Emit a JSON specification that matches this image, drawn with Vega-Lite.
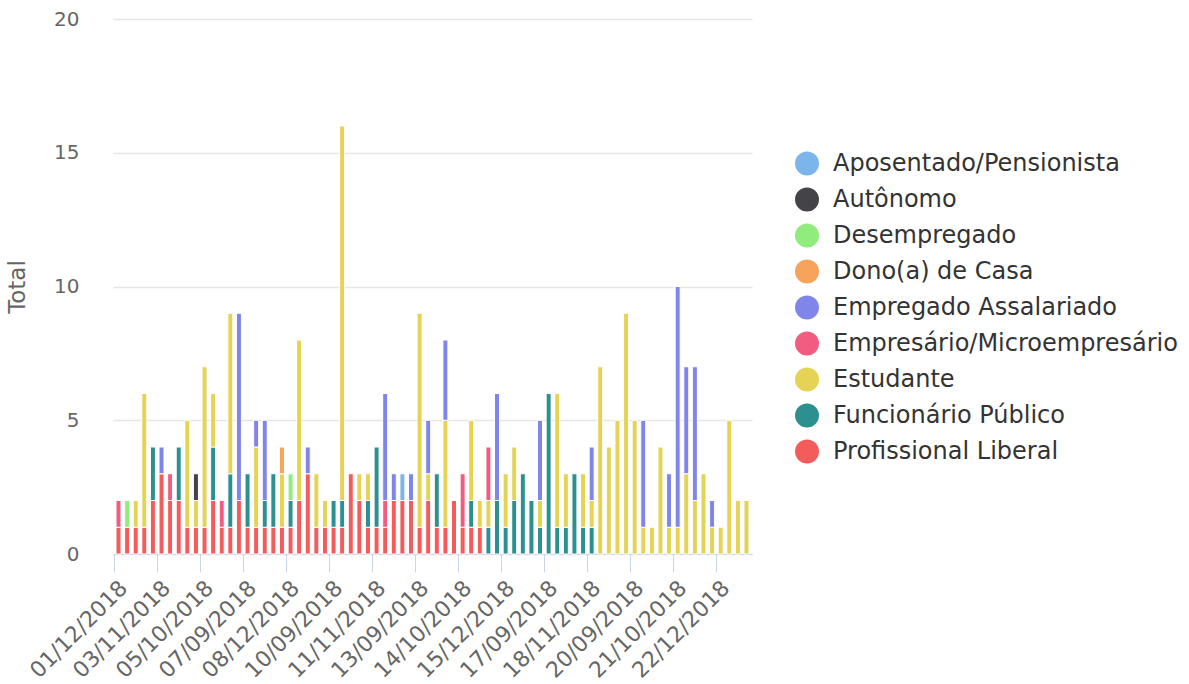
{
  "$schema": "https://vega.github.io/schema/vega-lite/v6.json",
  "width": 639,
  "height": 535,
  "autosize": {"type": "none"},
  "padding": {"left": 113, "top": 19, "right": 437, "bottom": 130},
  "background": "white",
  "config": {"view": {"stroke": null}, "font": "DejaVu Sans"},
  "data": {"values": [
    {"d":"01/12/2018","c":"Profissional Liberal","v":1},{"d":"01/12/2018","c":"Empresário/Microempresário","v":1},
    {"d":"02/10/2018","c":"Profissional Liberal","v":1},{"d":"02/10/2018","c":"Desempregado","v":1},
    {"d":"02/11/2018","c":"Profissional Liberal","v":1},{"d":"02/11/2018","c":"Estudante","v":1},
    {"d":"02/12/2018","c":"Profissional Liberal","v":1},{"d":"02/12/2018","c":"Estudante","v":5},
    {"d":"03/10/2018","c":"Profissional Liberal","v":2},{"d":"03/10/2018","c":"Funcionário Público","v":2},
    {"d":"03/11/2018","c":"Profissional Liberal","v":3},{"d":"03/11/2018","c":"Empregado Assalariado","v":1},
    {"d":"03/12/2018","c":"Profissional Liberal","v":2},{"d":"03/12/2018","c":"Empresário/Microempresário","v":1},
    {"d":"04/10/2018","c":"Profissional Liberal","v":2},{"d":"04/10/2018","c":"Funcionário Público","v":2},
    {"d":"04/11/2018","c":"Profissional Liberal","v":1},{"d":"04/11/2018","c":"Estudante","v":4},
    {"d":"04/12/2018","c":"Profissional Liberal","v":1},{"d":"04/12/2018","c":"Estudante","v":1},{"d":"04/12/2018","c":"Autônomo","v":1},
    {"d":"05/10/2018","c":"Profissional Liberal","v":1},{"d":"05/10/2018","c":"Estudante","v":6},
    {"d":"05/11/2018","c":"Profissional Liberal","v":2},{"d":"05/11/2018","c":"Funcionário Público","v":2},{"d":"05/11/2018","c":"Estudante","v":2},
    {"d":"05/12/2018","c":"Profissional Liberal","v":1},{"d":"05/12/2018","c":"Empresário/Microempresário","v":1},
    {"d":"06/11/2018","c":"Profissional Liberal","v":1},{"d":"06/11/2018","c":"Funcionário Público","v":2},{"d":"06/11/2018","c":"Estudante","v":6},
    {"d":"06/12/2018","c":"Profissional Liberal","v":2},{"d":"06/12/2018","c":"Empregado Assalariado","v":7},
    {"d":"07/09/2018","c":"Profissional Liberal","v":1},{"d":"07/09/2018","c":"Funcionário Público","v":2},
    {"d":"07/11/2018","c":"Profissional Liberal","v":1},{"d":"07/11/2018","c":"Estudante","v":3},{"d":"07/11/2018","c":"Empregado Assalariado","v":1},
    {"d":"07/12/2018","c":"Profissional Liberal","v":1},{"d":"07/12/2018","c":"Funcionário Público","v":1},{"d":"07/12/2018","c":"Empregado Assalariado","v":3},
    {"d":"08/10/2018","c":"Profissional Liberal","v":1},{"d":"08/10/2018","c":"Funcionário Público","v":2},
    {"d":"08/11/2018","c":"Profissional Liberal","v":1},{"d":"08/11/2018","c":"Estudante","v":2},{"d":"08/11/2018","c":"Dono(a) de Casa","v":1},
    {"d":"08/12/2018","c":"Profissional Liberal","v":1},{"d":"08/12/2018","c":"Funcionário Público","v":1},{"d":"08/12/2018","c":"Desempregado","v":1},
    {"d":"09/09/2018","c":"Profissional Liberal","v":2},{"d":"09/09/2018","c":"Estudante","v":6},
    {"d":"09/10/2018","c":"Profissional Liberal","v":3},{"d":"09/10/2018","c":"Empregado Assalariado","v":1},
    {"d":"09/11/2018","c":"Profissional Liberal","v":1},{"d":"09/11/2018","c":"Estudante","v":2},
    {"d":"09/12/2018","c":"Profissional Liberal","v":1},{"d":"09/12/2018","c":"Estudante","v":1},
    {"d":"10/09/2018","c":"Profissional Liberal","v":1},{"d":"10/09/2018","c":"Funcionário Público","v":1},
    {"d":"10/10/2018","c":"Profissional Liberal","v":1},{"d":"10/10/2018","c":"Funcionário Público","v":1},{"d":"10/10/2018","c":"Estudante","v":14},
    {"d":"10/11/2018","c":"Profissional Liberal","v":3},
    {"d":"10/12/2018","c":"Profissional Liberal","v":2},{"d":"10/12/2018","c":"Estudante","v":1},
    {"d":"11/10/2018","c":"Profissional Liberal","v":1},{"d":"11/10/2018","c":"Funcionário Público","v":1},{"d":"11/10/2018","c":"Estudante","v":1},
    {"d":"11/11/2018","c":"Profissional Liberal","v":1},{"d":"11/11/2018","c":"Funcionário Público","v":3},
    {"d":"11/12/2018","c":"Profissional Liberal","v":1},{"d":"11/12/2018","c":"Empresário/Microempresário","v":1},{"d":"11/12/2018","c":"Empregado Assalariado","v":4},
    {"d":"12/10/2018","c":"Profissional Liberal","v":2},{"d":"12/10/2018","c":"Empregado Assalariado","v":1},
    {"d":"12/11/2018","c":"Profissional Liberal","v":2},{"d":"12/11/2018","c":"Aposentado/Pensionista","v":1},
    {"d":"12/12/2018","c":"Profissional Liberal","v":2},{"d":"12/12/2018","c":"Empregado Assalariado","v":1},
    {"d":"13/09/2018","c":"Profissional Liberal","v":1},{"d":"13/09/2018","c":"Estudante","v":8},
    {"d":"13/10/2018","c":"Profissional Liberal","v":2},{"d":"13/10/2018","c":"Estudante","v":1},{"d":"13/10/2018","c":"Empregado Assalariado","v":2},
    {"d":"13/11/2018","c":"Profissional Liberal","v":1},{"d":"13/11/2018","c":"Funcionário Público","v":2},
    {"d":"13/12/2018","c":"Profissional Liberal","v":1},{"d":"13/12/2018","c":"Estudante","v":4},{"d":"13/12/2018","c":"Empregado Assalariado","v":3},
    {"d":"14/09/2018","c":"Profissional Liberal","v":2},
    {"d":"14/10/2018","c":"Profissional Liberal","v":1},{"d":"14/10/2018","c":"Empresário/Microempresário","v":2},
    {"d":"14/11/2018","c":"Profissional Liberal","v":1},{"d":"14/11/2018","c":"Funcionário Público","v":1},{"d":"14/11/2018","c":"Estudante","v":3},
    {"d":"14/12/2018","c":"Profissional Liberal","v":1},{"d":"14/12/2018","c":"Estudante","v":1},
    {"d":"15/10/2018","c":"Funcionário Público","v":1},{"d":"15/10/2018","c":"Estudante","v":1},{"d":"15/10/2018","c":"Empresário/Microempresário","v":2},
    {"d":"15/11/2018","c":"Funcionário Público","v":2},{"d":"15/11/2018","c":"Empregado Assalariado","v":4},
    {"d":"15/12/2018","c":"Funcionário Público","v":1},{"d":"15/12/2018","c":"Estudante","v":2},
    {"d":"16/09/2018","c":"Funcionário Público","v":2},{"d":"16/09/2018","c":"Estudante","v":2},
    {"d":"16/10/2018","c":"Funcionário Público","v":3},
    {"d":"16/11/2018","c":"Funcionário Público","v":2},
    {"d":"16/12/2018","c":"Funcionário Público","v":1},{"d":"16/12/2018","c":"Estudante","v":1},{"d":"16/12/2018","c":"Empregado Assalariado","v":3},
    {"d":"17/09/2018","c":"Funcionário Público","v":6},
    {"d":"17/10/2018","c":"Funcionário Público","v":1},{"d":"17/10/2018","c":"Estudante","v":5},
    {"d":"17/11/2018","c":"Funcionário Público","v":1},{"d":"17/11/2018","c":"Estudante","v":2},
    {"d":"17/12/2018","c":"Funcionário Público","v":3},
    {"d":"18/10/2018","c":"Funcionário Público","v":1},{"d":"18/10/2018","c":"Estudante","v":2},
    {"d":"18/11/2018","c":"Funcionário Público","v":1},{"d":"18/11/2018","c":"Estudante","v":1},{"d":"18/11/2018","c":"Empregado Assalariado","v":2},
    {"d":"18/12/2018","c":"Estudante","v":7},
    {"d":"19/10/2018","c":"Estudante","v":4},
    {"d":"19/11/2018","c":"Estudante","v":5},
    {"d":"19/12/2018","c":"Estudante","v":9},
    {"d":"20/09/2018","c":"Estudante","v":5},
    {"d":"20/10/2018","c":"Estudante","v":1},{"d":"20/10/2018","c":"Empregado Assalariado","v":4},
    {"d":"20/11/2018","c":"Estudante","v":1},
    {"d":"20/12/2018","c":"Estudante","v":4},
    {"d":"21/09/2018","c":"Estudante","v":1},{"d":"21/09/2018","c":"Empregado Assalariado","v":2},
    {"d":"21/10/2018","c":"Estudante","v":1},{"d":"21/10/2018","c":"Empregado Assalariado","v":9},
    {"d":"21/11/2018","c":"Estudante","v":3},{"d":"21/11/2018","c":"Empregado Assalariado","v":4},
    {"d":"21/12/2018","c":"Estudante","v":2},{"d":"21/12/2018","c":"Empregado Assalariado","v":5},
    {"d":"22/10/2018","c":"Estudante","v":3},
    {"d":"22/11/2018","c":"Estudante","v":1},{"d":"22/11/2018","c":"Empregado Assalariado","v":1},
    {"d":"22/12/2018","c":"Estudante","v":1},
    {"d":"23/10/2018","c":"Estudante","v":5},
    {"d":"23/11/2018","c":"Estudante","v":2},
    {"d":"23/12/2018","c":"Estudante","v":2}
  ]},
  "mark": {"type": "bar", "stroke": "white", "strokeWidth": 1},
  "encoding": {
    "x": {
      "field": "d", "type": "nominal", "sort": null,
      "scale": {"paddingInner": 0.42, "paddingOuter": 0.35},
      "axis": {
        "title": null,
        "values": ["01/12/2018","03/11/2018","05/10/2018","07/09/2018","08/12/2018","10/09/2018","11/11/2018","13/09/2018","14/10/2018","15/12/2018","17/09/2018","18/11/2018","20/09/2018","21/10/2018","22/12/2018"],
        "labelAngle": -45, "labelFontSize": 22, "labelColor": "#666666",
        "domainColor": "#ccd6eb", "tickColor": "#ccd6eb", "tickSize": 18,
        "tickOffset": -4.3, "labelOffset": 2, "labelPadding": 5, "grid": false
      }
    },
    "y": {
      "field": "v", "type": "quantitative",
      "scale": {"domain": [0, 20]},
      "axis": {
        "title": "Total", "values": [0, 5, 10, 15, 20],
        "labelFontSize": 20, "labelColor": "#666666",
        "domain": false, "ticks": false, "labelPadding": 34,
        "gridColor": "#e6e6e6", "gridWidth": 1.5,
        "titleFontSize": 23, "titleColor": "#666666", "titleFontWeight": "normal", "titlePadding": 24
      }
    },
    "color": {
      "field": "c", "type": "nominal",
      "scale": {
        "domain": ["Aposentado/Pensionista","Autônomo","Desempregado","Dono(a) de Casa","Empregado Assalariado","Empresário/Microempresário","Estudante","Funcionário Público","Profissional Liberal"],
        "range": ["#7cb5ec","#434348","#90ed7d","#f7a35c","#8085e9","#f15c80","#e4d354","#2b908f","#f45b5b"]
      },
      "legend": {
        "title": null, "orient": "none", "legendX": 682, "legendY": 132.5,
        "symbolType": "circle", "symbolSize": 576, "symbolStrokeWidth": 0, "symbolOpacity": 1,
        "labelFontSize": 24, "labelColor": "#333333", "labelOffset": 14,
        "rowPadding": 12, "padding": 0, "labelLimit": 0
      }
    },
    "order": {"field": "c", "sort": "descending"}
  }
}
